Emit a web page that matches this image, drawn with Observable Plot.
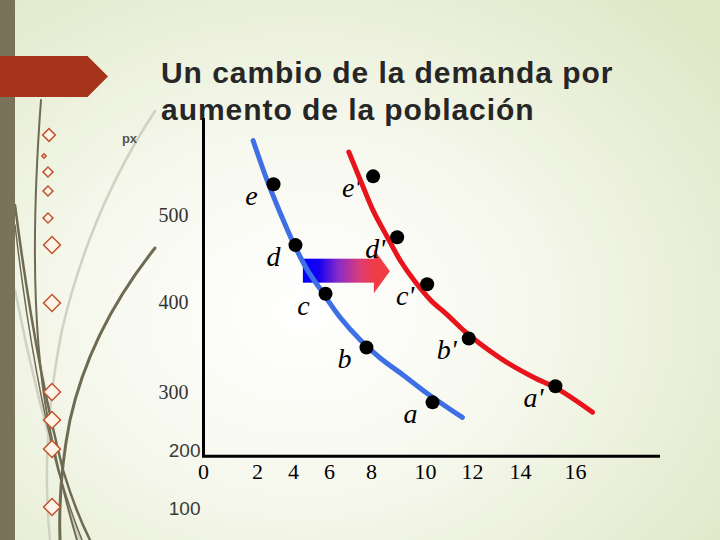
<!DOCTYPE html>
<html>
<head>
<meta charset="utf-8">
<script src="https://cdn.jsdelivr.net/npm/d3@7"></script>
<script src="https://cdn.jsdelivr.net/npm/@observablehq/plot@0.6"></script>
<style>
  html, body { margin: 0; padding: 0; }
  body {
    width: 720px; height: 540px; overflow: hidden; position: relative;
    background: radial-gradient(ellipse 75% 80% at 42% 58%, #ffffff 0%, #f7f9ef 38%, #dfe7c6 100%);
    font-family: "Liberation Sans", Arial, sans-serif;
  }
  #deco { position: absolute; left: 0; top: 0; }
  #bar { position: absolute; left: 0; top: 0; width: 15px; height: 540px; background: #7a7359; }
  #banner { position: absolute; left: 0; top: 56px; width: 108px; height: 41px; background: #a5341a;
    clip-path: polygon(0 0, 81% 0, 100% 50%, 81% 100%, 0 100%); }
  #title { position: absolute; left: 161px; top: 54px; font: bold 30px "Liberation Sans", Arial, sans-serif;
    line-height: 37px; letter-spacing: 0.95px; color: #262626; white-space: nowrap; }
  #chart { position: absolute; left: 0; top: 0; }
</style>
</head>
<body>
<svg id="deco" width="720" height="540">
  <g fill="none" stroke-linecap="round">
    <path d="M155,111 Q90,210 62,330 Q40,440 50,540" stroke="#cfd2c2" stroke-width="2.5"/>
    <path d="M15,290 Q40,420 80,540" stroke="#cfd2c2" stroke-width="2.5"/>
    <path d="M41,100 Q26,300 48,420 Q62,490 77,540" stroke="#6f6a52" stroke-width="2"/>
    <path d="M15,205 Q35,360 63,470 Q75,510 90,540" stroke="#6f6a52" stroke-width="2.5"/>
    <path d="M15,225 Q32,370 58,470 Q70,510 82,540" stroke="#6f6a52" stroke-width="1.5"/>
    <path d="M155,248 Q90,330 70,420 Q58,480 60,540" stroke="#6f6a52" stroke-width="3"/>
  </g>
  <g fill="#fff4e8" stroke="#c0522c" stroke-width="1.5">
    <rect x="-4.5" y="-4.5" width="9" height="9" transform="translate(49,135) rotate(45)"/>
    <rect x="-1.5" y="-1.5" width="3" height="3" transform="translate(44,156) rotate(45)"/>
    <rect x="-3.5" y="-3.5" width="7" height="7" transform="translate(48,172) rotate(45)"/>
    <rect x="-3.5" y="-3.5" width="7" height="7" transform="translate(48,191) rotate(45)"/>
    <rect x="-3.5" y="-3.5" width="7" height="7" transform="translate(48,218) rotate(45)"/>
    <rect x="-6" y="-6" width="12" height="12" transform="translate(52,245) rotate(45)"/>
    <rect x="-6" y="-6" width="12" height="12" transform="translate(52,303) rotate(45)"/>
    <rect x="-6" y="-6" width="12" height="12" transform="translate(52,392) rotate(45)"/>
    <rect x="-6" y="-6" width="12" height="12" transform="translate(52,420) rotate(45)"/>
    <rect x="-6" y="-6" width="12" height="12" transform="translate(52,449) rotate(45)"/>
    <rect x="-6" y="-6" width="12" height="12" transform="translate(52,507) rotate(45)"/>
  </g>
</svg>
<div id="bar"></div>
<div id="banner"></div>
<div id="title">Un cambio de la demanda por<br>aumento de la población</div>
<div id="chart"></div>
<script>
// ---- data ----
// tick labels
const xTicks = [0, 2, 4, 6, 8, 10, 12, 14, 16];
const yTicksSerif = [500, 400, 300];
const yTicksSans = [200, 100];
const yTickBreaks = [100, 200, 300, 400, 500];
const axisTitle = ["px"];
const axisFloorPrice = [190];
const axisOriginQty = [0];

// original demand curve (blue)
const demandQty   = [1.84, 2.54, 3.28, 4.0, 4.78, 5.5, 6.52, 7.48, 8.33, 9.19, 10.09, 11.57];
const demandPrice = [586, 540, 502, 468, 437, 415, 383, 358, 338, 319, 298, 257];

// new demand curve after population increase (red)
const newDemandQty   = [6.92, 7.48, 8.07, 8.59, 9.07, 9.59, 10.21, 10.94, 11.62, 12.33, 13.46, 14.47, 15.35, 16.62];
const newDemandPrice = [573, 540, 505, 475, 448, 425, 403, 386, 369, 354, 333, 317, 304, 266];

// marked points
const pointLabels   = ["a", "b", "c", "d", "e"];
const pointQty      = [10.3, 7.76, 5.78, 4.11, 2.89];
const pointPrice    = [283, 350, 410, 466, 536];
const newPointLabels = ["a'", "b'", "c'", "d'", "e'"];
const newPointQty    = [15.27, 11.84, 10.07, 8.95, 8.06];
const newPointPrice  = [307, 360, 421, 475, 545];

// the shift arrow
const shiftFromQty = [4.55];
const shiftToQty   = [8.68];
const shiftPrice   = [436];

// ---- tables built from the arrays ----
const demand = demandQty.map((q, i) => ({qty: q, price: demandPrice[i]}));
const newDemand = newDemandQty.map((q, i) => ({qty: q, price: newDemandPrice[i]}));
const points = pointLabels.map((l, i) => ({label: l, qty: pointQty[i], price: pointPrice[i]}));
const newPoints = newPointLabels.map((l, i) => ({label: l, qty: newPointQty[i], price: newPointPrice[i]}));
const allPoints = points.concat(newPoints);
const shift = shiftFromQty.map((f, i) => ({from: f, to: shiftToQty[i], price: shiftPrice[i]}));

const serif = "'Liberation Serif', 'Times New Roman', serif";
const sans = "'Liberation Sans', Arial, sans-serif";

const arrowHead = {
  draw(ctx) {
    ctx.moveTo(0, 0);
    ctx.lineTo(-16, -22);
    ctx.lineTo(-16, 22);
    ctx.closePath();
  }
};

const chart = Plot.plot({
  width: 720,
  height: 540,
  marginLeft: 202,
  marginTop: 118,
  marginRight: 60,
  marginBottom: 85,
  style: {background: "transparent", overflow: "visible"},
  x: {type: "linear", domain: xTicks, range: [203, 257, 293, 329, 371, 425, 472, 520, 575], axis: null},
  y: {type: "linear", domain: yTickBreaks, range: [508, 450, 392, 302, 215], axis: null},
  marks: [
    Plot.ruleX(axisOriginQty, {x: d => d, stroke: "black", strokeWidth: 3}),
    Plot.ruleY(axisFloorPrice, {y: d => d, stroke: "black", strokeWidth: 3}),
    Plot.text(xTicks, {x: d => d, frameAnchor: "bottom", dy: 23, text: d => String(d),
      fontFamily: serif, fontSize: 22, fill: "black"}),
    Plot.text(yTicksSerif, {y: d => d, frameAnchor: "left", textAnchor: "end", dx: -14, text: d => String(d),
      fontFamily: serif, fontSize: 20, fill: "#333"}),
    Plot.text(yTicksSans, {y: d => d, frameAnchor: "left", textAnchor: "end", dx: -2, text: d => String(d),
      fontFamily: sans, fontSize: 19, fill: "#3a3a3a"}),
    Plot.text(axisTitle, {x: null, y: null, frameAnchor: "top-left", dx: -73, dy: 15, text: d => d,
      fontFamily: sans, fontWeight: "bold", fontSize: 13, fill: "#555", textAnchor: "middle"}),
    Plot.rect(shift, {x1: "from", x2: "to", y1: "price", y2: "price", insetTop: -12, insetBottom: -12,
      insetRight: 15, fill: "url(#shiftGrad)"}),
    Plot.dot(shift, {x: "to", y: "price", symbol: arrowHead, r: 10, fill: "#f03c44", stroke: "none"}),
    Plot.text(allPoints, {x: "qty", y: "price", text: "label", dx: -22, dy: 12,
      fontFamily: serif, fontStyle: "italic", fontSize: 28, fill: "black"}),
    Plot.line(demand, {x: "qty", y: "price", stroke: "#3f6fe4", strokeWidth: 5, curve: "catmull-rom"}),
    Plot.line(newDemand, {x: "qty", y: "price", stroke: "#e8141b", strokeWidth: 5, curve: "catmull-rom"}),
    Plot.dot(allPoints, {x: "qty", y: "price", r: 7, fill: "black", stroke: "none"})
  ]
});

const defs = document.createElementNS("http://www.w3.org/2000/svg", "defs");
defs.innerHTML = '<linearGradient id="shiftGrad" x1="0" y1="0" x2="1" y2="0">' +
  '<stop offset="0%" stop-color="#0000ff"/>' +
  '<stop offset="22%" stop-color="#1400f2"/>' +
  '<stop offset="50%" stop-color="#8a2cc8"/>' +
  '<stop offset="80%" stop-color="#dc3c78"/>' +
  '<stop offset="100%" stop-color="#f03c44"/>' +
  '</linearGradient>';
chart.insertBefore(defs, chart.firstChild);
document.getElementById("chart").appendChild(chart);
</script>
</body>
</html>
